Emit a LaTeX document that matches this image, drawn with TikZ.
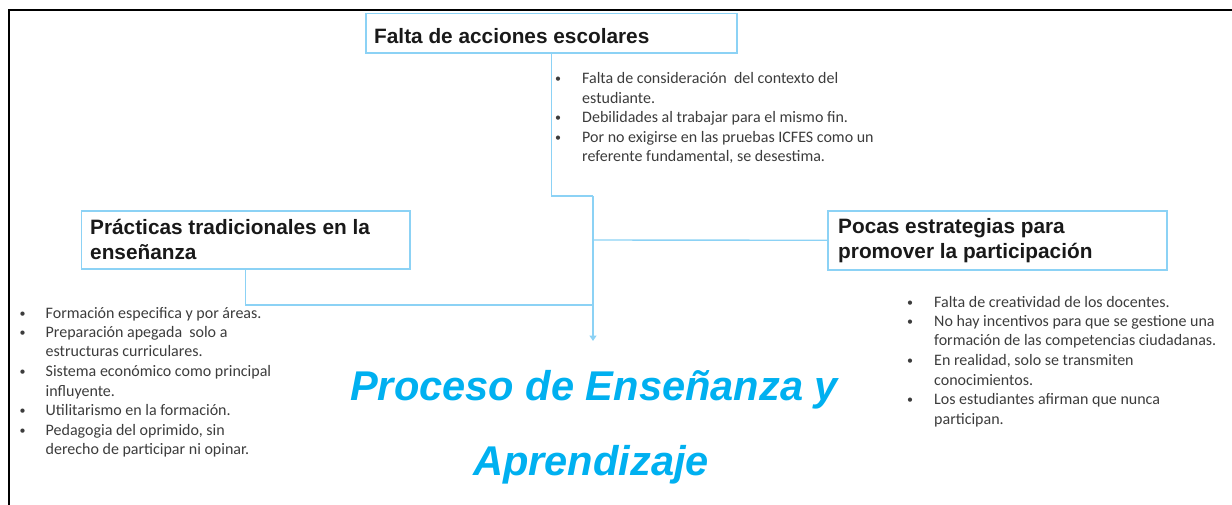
\documentclass[tikz,border=0pt]{standalone}
\usepackage{fontspec}
\usetikzlibrary{arrows.meta}
\newfontfamily\headfont{Liberation Sans}
\newfontfamily\bodyfont{Carlito}
\definecolor{lineblue}{RGB}{140,210,245}
\definecolor{titleblue}{RGB}{0,176,240}
\definecolor{bodygray}{RGB}{60,60,60}
\definecolor{headblack}{RGB}{25,25,25}
\tikzset{
  hbox/.style={draw=lineblue, line width=1.6pt, rectangle, inner sep=0pt, anchor=north west},
  htext/.style={inner sep=0pt, anchor=base west, text=headblack,
    font=\headfont\bfseries\fontsize{20.8}{25}\selectfont},
  blist/.style={inner sep=0pt, anchor=base west, text=bodygray,
    font=\bodyfont\fontsize{16}{19.5}\selectfont},
  conn/.style={draw=lineblue, line width=1.4pt},
  ttext/.style={inner sep=0pt, anchor=base west, text=titleblue,
    font=\headfont\bfseries\itshape\fontsize{41.6}{45}\selectfont},
}
\newcommand{\blt}{\raisebox{1pt}{\scalebox{0.75}{\textbullet}}}
\newcommand{\twolines}[2]{\begin{tabular}[t]{@{}l@{}}#1\\#2\end{tabular}}
\begin{document}
\begin{tikzpicture}[x=1pt,y=-1pt]
\useasboundingbox (0,0) rectangle (1232,505);
% frame
\draw[line width=2pt, black] (9,505) -- (9,10) -- (1232,10);
% boxes
\node[hbox, minimum width=371pt, minimum height=39.5pt] (top) at (365,12.7) {};
\node[htext] (toptext) at (374,43.3) {Falta de acciones escolares};
\node[hbox, minimum width=328.5pt, minimum height=58pt] (left) at (80.7,210) {};
\node[htext] (lefttext) at (90,235) {\twolines{Prácticas tradicionales en la}{enseñanza}};
\node[hbox, minimum width=339pt, minimum height=59pt] (right) at (827,210) {};
\node[htext] (righttext) at (838,233.5) {\twolines{Pocas estrategias para}{promover la participación}};
% connectors
\coordinate (j1) at (593,196);
\coordinate (j2) at (593,240);
\coordinate (j3) at (593,305);
\coordinate (tip) at (593,341);
\draw[conn] (top.south) |- (j1);
\draw[conn, -{Triangle[width=7pt,length=5.5pt]}] (j1) -- (tip);
\draw[conn] (right.west) -- (j2);
\draw[conn] (left.south) |- (j3);
% bullet lists
\node[blist] (toplist) at (555,84) {\begin{tabular}[t]{@{}p{27pt}@{}l@{}}
\blt & Falta de consideración\ \ del contexto del\\
 & estudiante.\\
\blt & Debilidades al trabajar para el mismo fin.\\
\blt & Por no exigirse en las pruebas ICFES como un\\
 & referente fundamental, se desestima.
\end{tabular}};
\node[blist] (leftlist) at (19.5,318) {\begin{tabular}[t]{@{}p{26pt}@{}l@{}}
\blt & Formación especifica y por áreas.\\
\blt & Preparación apegada\ \ solo a\\
 & estructuras curriculares.\\
\blt & Sistema económico como principal\\
 & influyente.\\
\blt & Utilitarismo en la formación.\\
\blt & Pedagogia del oprimido, sin\\
 & derecho de participar ni opinar.
\end{tabular}};
\node[blist] (rightlist) at (907,307) {\begin{tabular}[t]{@{}p{27pt}@{}l@{}}
\blt & Falta de creatividad de los docentes.\\
\blt & No hay incentivos para que se gestione una\\
 & formación de las competencias ciudadanas.\\
\blt & En realidad, solo se transmiten\\
 & conocimientos.\\
\blt & Los estudiantes afirman que nunca\\
 & participan.
\end{tabular}};
% title
\node[ttext] (title1) at (350,400) {Proceso de Enseñanza y};
\node[ttext] (title2) at (473,475) {Aprendizaje};
\end{tikzpicture}
\end{document}
